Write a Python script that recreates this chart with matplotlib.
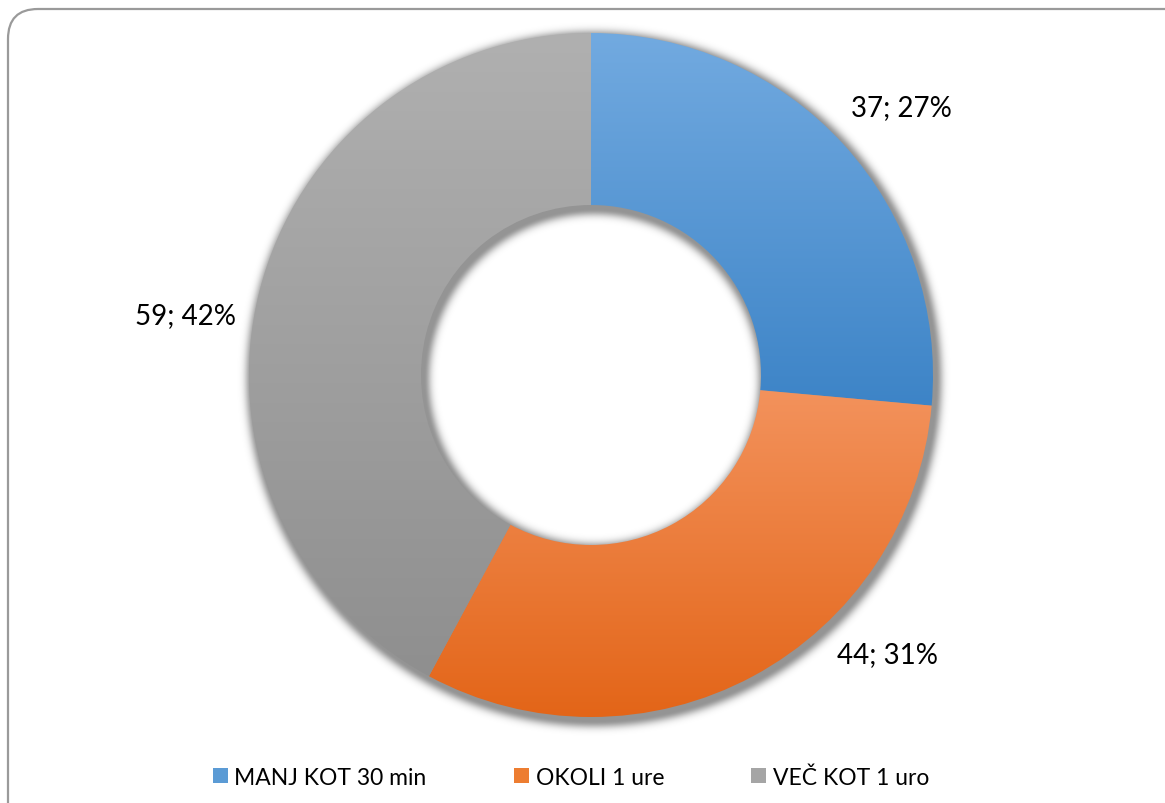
import numpy as np
import matplotlib
matplotlib.use("Agg")
import matplotlib.pyplot as plt
from matplotlib.patches import FancyBboxPatch, Patch
from matplotlib.transforms import IdentityTransform

plt.rcParams['font.family'] = ['Lato', 'DejaVu Sans']

# data
categories = ['MANJ KOT 30 min', 'OKOLI 1 ure', 'VEČ KOT 1 uro']
values = [37, 44, 59]
percent_labels = ['27%', '31%', '42%']

# gradient colours (top, bottom) per slice
grad_colors = [('#72AAE0', '#3D84C7'),
               ('#F3925C', '#E36518'),
               ('#B0B0B0', '#8F8F8F')]
legend_colors = ['#5B9BD5', '#ED7D31', '#A5A5A5']

# label placement (angle in degrees, distance as fraction of radius)
label_pos = [(40.8, 1.20), (-43.2, 1.19), (171.6, 1.20)]

W, H = 1165, 804
cx, cy = 591, 428
R, r_in = 342, 170

fig = plt.figure(figsize=(W / 100, H / 100), dpi=100)
ax = fig.add_axes([0, 0, 1, 1])

# soft shadow behind the ring
xx, yy = np.meshgrid(np.arange(W) + 0.5, np.arange(H) + 0.5)
sx, sy = cx + 3, cy - 4
rho = np.hypot(xx - sx, yy - sy)
d = np.maximum(np.maximum(rho - R, r_in - rho), 0)
alpha = 0.42 * np.exp(-(d / 7.0) ** 2)
shadow = np.zeros((H, W, 4))
shadow[..., 3] = alpha
ax.imshow(shadow, extent=(0, W, 0, H), origin='lower', zorder=1, interpolation='bilinear')

wedges, _ = ax.pie(values, center=(cx, cy), radius=R, startangle=90,
                   counterclock=False,
                   wedgeprops=dict(width=R - r_in, linewidth=0))

for w, (top, bot) in zip(wedges, grad_colors):
    w.set_zorder(2)
    w.set_facecolor('none')
    ext = w.get_path().get_extents()
    t = np.linspace(0, 1, 256)[:, None]
    c0 = np.array(matplotlib.colors.to_rgb(top))
    c1 = np.array(matplotlib.colors.to_rgb(bot))
    img = (c0 * (1 - t) + c1 * t)[:, None, :]
    im = ax.imshow(img, extent=(ext.x0, ext.x1, ext.y0, ext.y1), origin='upper',
                   aspect='auto', zorder=2, interpolation='bilinear')
    im.set_clip_path(w)

for v, p, (ang, f) in zip(values, percent_labels, label_pos):
    a = np.deg2rad(ang)
    ax.text(cx + f * R * np.cos(a), cy + f * R * np.sin(a), f'{v}; {p}',
            ha='center', va='center', fontsize=20, color='#000000', zorder=3)

ax.set_xlim(0, W)
ax.set_ylim(0, H)
ax.set_aspect('equal')
ax.axis('off')

handles = [Patch(facecolor=c, edgecolor='none') for c in legend_colors]
fig.legend(handles, categories, loc='center', bbox_to_anchor=(571 / W, 1 - 778 / H),
           ncol=3, frameon=False, fontsize=16.5, handlelength=0.65, handleheight=0.65,
           handletextpad=0.3, columnspacing=3.8)

# rounded frame (pixel coords, right and bottom edges run off the image)
frame = FancyBboxPatch((8, -30), W + 30 - 8, H - 10 + 30,
                       boxstyle='round,pad=0,rounding_size=30',
                       transform=IdentityTransform(), facecolor='none',
                       edgecolor='#9A9A9A', linewidth=1.6)
fig.patches.append(frame)

fig.savefig('out.png', dpi=100, facecolor='white')
